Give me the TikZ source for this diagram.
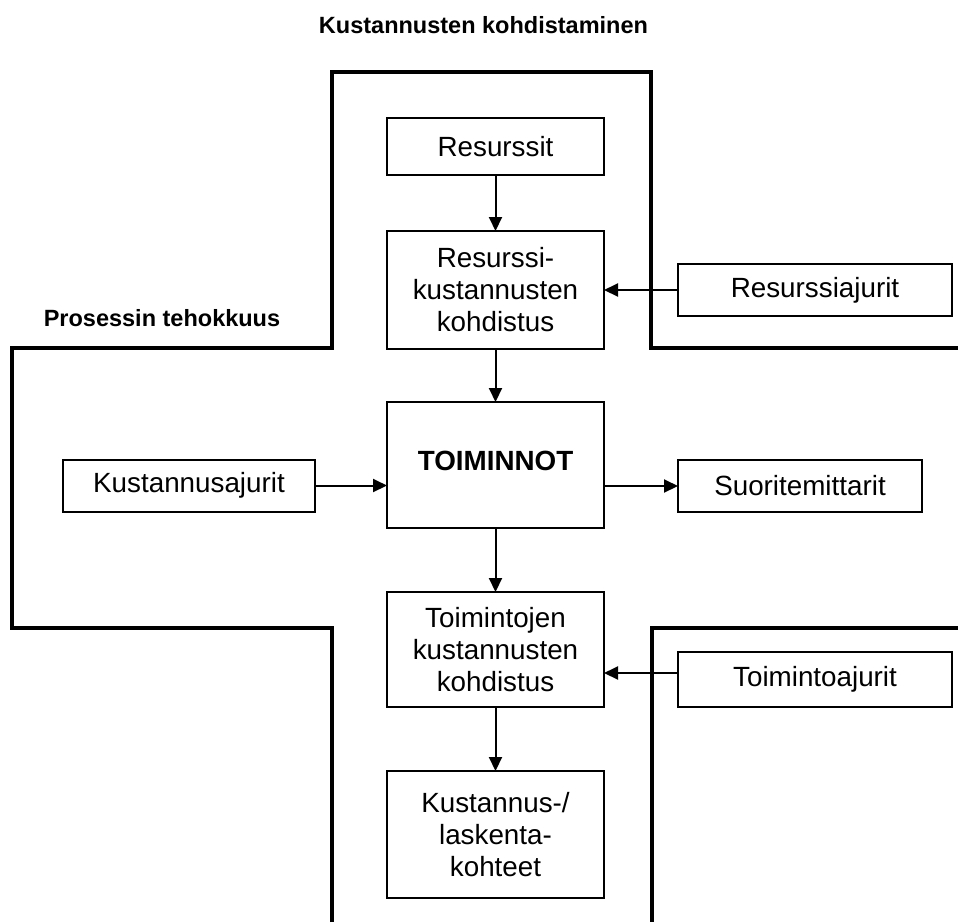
\documentclass[tikz,border=0pt]{standalone}
\usepackage{fontspec}
\setmainfont{Liberation Sans}
\usetikzlibrary{arrows.meta,positioning}

\begin{document}
\begin{tikzpicture}[x=1pt,y=-1pt,every node/.style={font=\fontsize{27.8}{32}\selectfont},
 box/.style={draw,line width=2pt,outer sep=0pt,minimum width=217pt,align=center,inner sep=0pt},
 side/.style={draw,line width=2pt,outer sep=0pt,minimum height=52pt,minimum width=274pt,align=center,inner sep=0pt},
 lbl/.style={font=\bfseries\fontsize{23.5}{28}\selectfont},
 arr/.style={-{Triangle[length=14pt,width=13pt]},line width=2pt}]
\useasboundingbox (0,0) rectangle (958,922);
% cross outline
\draw[line width=3.3pt](332,922)--(332,628)--(12,628)--(12,348)--(332,348)--(332,72)--(651,72)--(651,348)--(958,348);
\draw[line width=3.3pt](958,628)--(652,628)--(652,922);
\node[lbl](kko) at (483.5,25){Kustannusten kohdistaminen};
\node[lbl](pte) at (162,318){Prosessin tehokkuus};
% main column
\node[box,minimum height=57pt](res) at (495.5,146.5){Resurssit};
\node[box,minimum height=118pt,below=56pt of res](rkk){Resurssi-\\kustannusten\\kohdistus};
\node[box,minimum height=126pt,text depth=8pt,below=53pt of rkk](toi){\textbf{TOIMINNOT}};
\node[box,minimum height=115pt,below=64pt of toi](tkk){Toimintojen\\kustannusten\\kohdistus};
\node[box,minimum height=127pt,below=64pt of tkk](kla){Kustannus-/\\laskenta-\\kohteet};
% side boxes
\node[side,right=74pt of rkk](raj){Resurssiajurit};
\node[side,minimum width=252pt,left=72pt of toi,yshift=-20.5pt](kaj){Kustannusajurit};
\node[side,minimum width=244pt,right=74pt of toi,yshift=-21pt](suo){Suoritemittarit};
\node[side,minimum height=55pt,right=74pt of tkk,yshift=-30pt](taj){Toimintoajurit};
\foreach \x/\y in {res/rkk,rkk/toi,toi/tkk,tkk/kla}{\draw[arr](\x)--(\y);}
\draw[arr](raj.west)--(raj.west -| rkk.east);
\draw[arr](kaj.east)--(kaj.east -| toi.west);
\draw[arr](toi.east |- suo.west)--(suo.west);
\coordinate(t) at ([yshift=6.5pt]taj.west);
\draw[arr](t)--(t -| tkk.east);
\end{tikzpicture}
\end{document}
